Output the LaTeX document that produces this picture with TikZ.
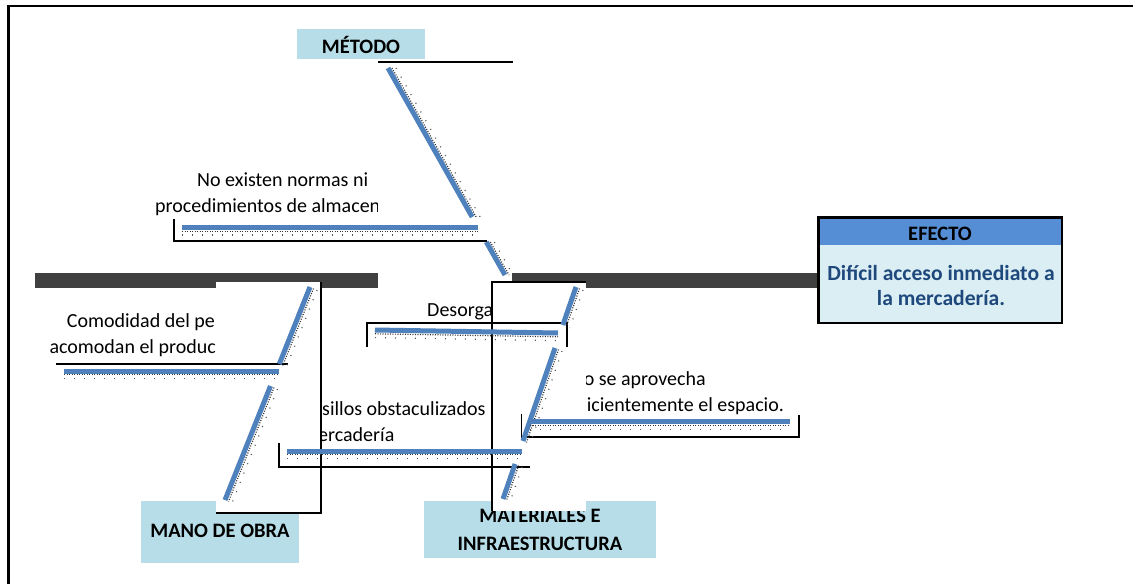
\documentclass[tikz,border=0pt]{standalone}
\usepackage{fontspec}
\setmainfont{Carlito}
\usetikzlibrary{calc}

\definecolor{spinegray}{HTML}{404040}
\definecolor{bonecol}{HTML}{4F81BD}
\definecolor{catfill}{HTML}{B7DEE8}
\definecolor{headfill}{HTML}{558ED5}
\definecolor{bodyfill}{HTML}{DAEEF3}
\definecolor{effecttext}{HTML}{1F497D}

% a blue bone with its dotted drop shadow: from, to, shadow offset
\newcommand\fbbone[3]{%
  \draw[bonedots] ($(#1)+(#3)$) -- ($(#2)+(#3)$);
  \draw[bonespeck] ($(#1)+2*(#3)$) -- ($(#2)+2*(#3)$);
  \draw[bone] (#1) -- (#2);}

\begin{document}
\begin{tikzpicture}[x=1pt,y=-1pt,
  frameline/.style={line width=2.5pt,black},
  thinline/.style={line width=1.3pt,black},
  spine/.style={line width=15pt,spinegray},
  bone/.style={line width=5pt,bonecol},
  bonedots/.style={line width=1.2pt,black!80,dash pattern=on 1pt off 1.5pt},
  bonespeck/.style={line width=1.2pt,black!65,dash pattern=on 1pt off 9pt},
  catbox/.style={rectangle,fill=catfill,draw=none,inner sep=0pt},
  cattext/.style={font=\fontsize{20.5}{24}\selectfont\bfseries,inner sep=0pt,anchor=base},
  cause/.style={font=\fontsize{20}{25.6}\selectfont,inner sep=0pt,anchor=base west},
  eftext/.style={font=\fontsize{21.6}{25}\selectfont\bfseries,text=effecttext,inner sep=0pt,anchor=base}]
\useasboundingbox (0,0) rectangle (1133,584);

% outer frame, top and left sides
\coordinate (fTL) at (8.7,6);
\coordinate (fTR) at (1133,6);
\coordinate (fBL) at (8.7,584);
\draw[frameline] (fTR) -- (fTL) -- (fBL);

% category labels
\node[catbox,minimum width=128pt,minimum height=30pt] (metodoBox) at (361,44) {};
\node[cattext] (metodo) at (361,53.3) {MÉTODO};
\node[catbox,minimum width=158pt,minimum height=62pt] (manoBox) at (220,532) {};
\node[cattext] (mano) at (220,537) {MANO DE OBRA};
\node[catbox,minimum width=232pt,minimum height=57pt] (matBox) at (540,529.5) {};
\node[cattext] (mat1) at (540,522) {MATERIALES E};
\node[cattext] (mat2) at (540,550) {INFRAESTRUCTURA};

% effect box
\node[fill=headfill,minimum width=246pt,minimum height=29pt,inner sep=0pt,anchor=north west] (efHead) at (817,216) {};
\node[fill=bodyfill,minimum width=246pt,minimum height=79pt,inner sep=0pt,anchor=north west] (efBody) at (817,245) {};
\draw[line width=2.7pt] ([shift={(1.35,1.35)}]efHead.north west) rectangle ([shift={(-1.35,-1.35)}]efBody.south east);
\node[font=\fontsize{20.5}{24}\selectfont\bfseries,inner sep=0pt,anchor=base] (efTitle) at (940,240) {EFECTO};
\node[eftext] (ef1) at (941,280) {Difícil acceso inmediato a};
\node[eftext] (ef2) at (941,305) {la mercadería.};

% spine
\coordinate (spL) at (35,280.5);
\draw[spine] (spL) -- (spL -| efBody.west);

% cause texts
\node[cause] (n1) at (197,186) {No existen normas ni};
\node[cause] (n2) at (155,212) {procedimientos de almacen};
\node[cause] (c1) at (66.7,327) {Comodidad del pe};
\node[cause] (c2) at (49.3,353) {acomodan el produc};
\node[cause] (d1) at (427,316.7) {Desorga};
\node[cause] (s1) at (583.6,385.5) {o se aprovecha};
\node[cause] (s2) at (586.6,411) {icientemente el espacio.};
\node[cause] (p1) at (322,415) {sillos obstaculizados};
\node[cause] (p2) at (318,441) {ercadería};

% white text boxes lying over the spine
\fill[white] (378,62) rectangle (512,289);
\fill[white] (216,282) rectangle (321,513);
\draw[thinline] (321,282) -- (321,513) -- (216,513);
\fill[white] (492,282) rectangle (586,511);
\draw[thinline] (586,282) -- (492,282) -- (492,511);

% box edges of the cause texts
\draw[thinline] (378,62) -- (513,62);
\draw[thinline] (174,219) -- (174,241) -- (487,241);
\draw[thinline] (56,364) -- (288,364);
\draw[thinline] (367,347) -- (367,323) -- (567,323) -- (567,347);
\draw[thinline] (279,443) -- (279,467) -- (530,467);
\draw[thinline] (521.6,413.6) -- (521.6,437) -- (799,437) -- (799,415);

% bone: MÉTODO
\coordinate (m1) at (388,68);
\coordinate (m2) at (472.2,217);
\coordinate (m3) at (486.3,242);
\coordinate (m4) at (505,275);
\fbbone{m1}{m2}{4,0}
\fbbone{m3}{m4}{4,0}
\coordinate (nA) at (182,227.3);
\coordinate (nB) at (477.5,227.3);
\fbbone{nA}{nB}{0,3.8}

% bone: MANO DE OBRA
\coordinate (o1) at (310,287);
\coordinate (o2) at (279.3,364);
\coordinate (o3) at (270.5,386);
\coordinate (o4) at (225,500);
\fbbone{o1}{o2}{3.5,1.5}
\fbbone{o3}{o4}{3.5,1.5}
\coordinate (cA) at (64,371);
\coordinate (cB) at (279,371);
\fbbone{cA}{cB}{0,3.8}
\coordinate (pA) at (287,451);
\coordinate (pB) at (522,451);
\fbbone{pA}{pB}{0,3.8}

% bone: MATERIALES E INFRAESTRUCTURA
\coordinate (r1) at (576,287);
\coordinate (r2) at (562.9,325);
\coordinate (r3) at (555,348);
\coordinate (r4) at (523,441);
\coordinate (r5) at (515.1,464);
\coordinate (r6) at (503,499);
\fbbone{r1}{r2}{3.5,1.5}
\fbbone{r3}{r4}{3.5,1.5}
\fbbone{r5}{r6}{3.5,1.5}
\coordinate (dA) at (375,330);
\coordinate (dB) at (558,333);
\fbbone{dA}{dB}{0,3.8}
\coordinate (sA) at (530,421.6);
\coordinate (sB) at (790,421.6);
\fbbone{sA}{sB}{0,3.8}
\end{tikzpicture}
\end{document}
